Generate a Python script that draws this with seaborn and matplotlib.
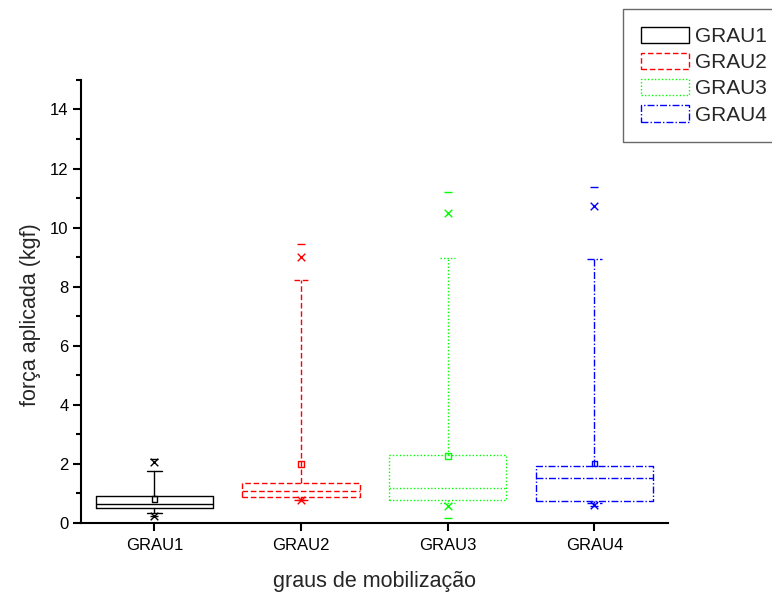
import matplotlib
matplotlib.use("Agg")
import matplotlib.pyplot as plt
from matplotlib.patches import Rectangle
import seaborn as sns

# Box-plot summary statistics per mobilisation grade (kgf)
categories = ["GRAU1", "GRAU2", "GRAU3", "GRAU4"]
q1 = [0.50, 0.89, 0.78, 0.75]
median = [0.64, 1.08, 1.17, 1.52]
q3 = [0.90, 1.35, 2.31, 1.93]
whisker_low = [0.35, 0.78, 0.67, 0.67]
whisker_high = [1.75, 8.24, 8.98, 8.94]
mean = [0.82, 2.00, 2.26, 2.01]
p01 = [0.24, 0.78, 0.56, 0.61]
p99 = [2.05, 8.99, 10.48, 10.74]
minimum = [0.24, 0.78, 0.18, 0.57]
maximum = [2.17, 9.45, 11.19, 11.39]

colors = ["black", "#FF0000", "#00FF00", "#0000FF"]
styles = ["-", (0, (4, 2)), (0, (1, 1.5)), (0, (5, 1.5, 1, 1.5))]

sns.set_style("ticks")
plt.rcParams["font.family"] = ["Liberation Sans", "DejaVu Sans"]

fig = plt.figure(figsize=(7.72, 5.94), dpi=100)
ax = fig.add_axes([0.105, 0.1195, 0.76, 0.746])

for i, cat in enumerate(categories):
    stats = [{
        "med": median[i], "q1": q1[i], "q3": q3[i],
        "whislo": whisker_low[i], "whishi": whisker_high[i],
        "fliers": [], "label": cat,
    }]
    lp = dict(color=colors[i], linestyle=styles[i], linewidth=1.0)
    ax.bxp(stats, positions=[i], widths=0.8, showfliers=False,
           boxprops=lp, whiskerprops=lp, medianprops=lp,
           capprops=dict(color=colors[i], linestyle=styles[i], linewidth=1.0),
           capwidths=0.1, manage_ticks=False)

    # mean (open square), 1%/99% (x) and min/max (dash)
    sns.scatterplot(x=[i], y=[mean[i]], marker="s", s=16, ax=ax,
                    facecolor="none", edgecolor=colors[i], linewidth=1.0, zorder=5)
    sns.scatterplot(x=[i, i], y=[p01[i], p99[i]], marker="x", s=30, ax=ax,
                    color=colors[i], linewidth=1.0, zorder=5)
    sns.scatterplot(x=[i, i], y=[minimum[i], maximum[i]], marker="_", s=30, ax=ax,
                    color=colors[i], linewidth=1.0, zorder=5)

ax.set_xlim(-0.5, 3.5)
ax.set_ylim(0, 15)
ax.set_xticks(range(len(categories)))
ax.set_xticklabels(categories)
ax.set_yticks(range(0, 15, 2))
ax.set_yticks(range(0, 16, 1), minor=True)
sns.despine(ax=ax)
for sp in ("left", "bottom"):
    ax.spines[sp].set_linewidth(1.5)
    ax.spines[sp].set_color("black")
ax.tick_params(axis="both", which="major", direction="out", length=6, width=1.5,
               labelsize=12, color="black", labelcolor="black", pad=3)
ax.tick_params(axis="x", which="major", pad=5)
ax.tick_params(axis="y", which="minor", direction="out", length=3.5, width=1.5, color="black")
ax.set_xlabel("graus de mobilização", fontsize=15.5, labelpad=13)
ax.set_ylabel("força aplicada (kgf)", fontsize=15.5)
ax.yaxis.set_label_coords(-0.068, 0.47)

handles = [Rectangle((0, 0), 1, 1, facecolor="none", edgecolor=colors[i],
                     linestyle=styles[i], linewidth=1.0) for i in range(4)]
leg = fig.legend(handles, categories, loc="upper left",
                 bbox_to_anchor=(623 / 772, 1 - 9 / 594), fontsize=15,
                 frameon=True, fancybox=False, handlelength=2.3, handleheight=0.82,
                 handletextpad=0.3, labelspacing=0.33, borderpad=0.85,
                 borderaxespad=0)
leg.get_frame().set_edgecolor("#444444")
leg.get_frame().set_linewidth(1.0)

fig.savefig("out.png", dpi=100)
